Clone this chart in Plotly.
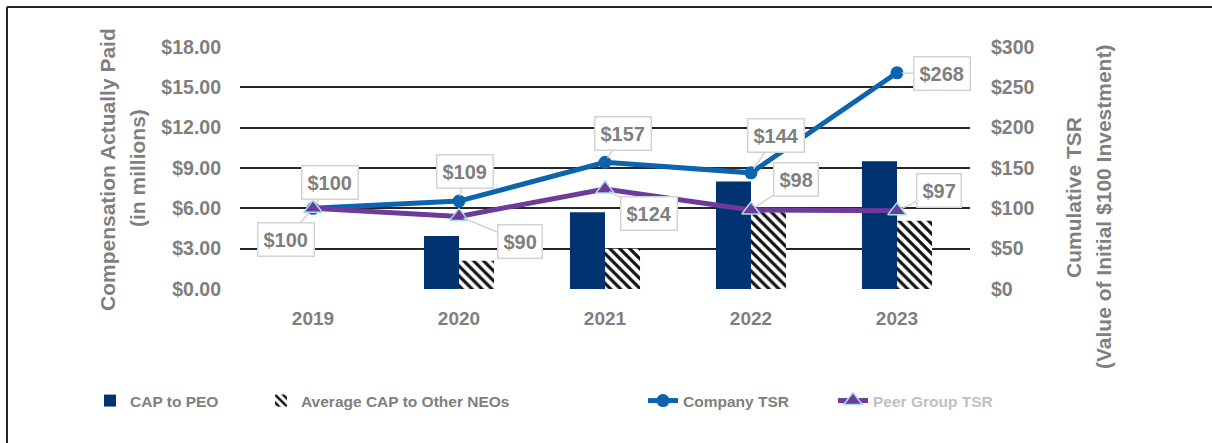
import plotly.graph_objects as go

years = ["2019", "2020", "2021", "2022", "2023"]
cap_peo = [None, 3.95, 5.70, 8.00, 9.50]
cap_neo = [None, 2.10, 3.00, 5.70, 5.08]
company_tsr = [100, 109, 157, 144, 268]
peer_tsr = [100, 90, 124, 98, 97]

left_ticks = [0, 3, 6, 9, 12, 15, 18]
left_labels = ["$0.00", "$3.00", "$6.00", "$9.00", "$12.00", "$15.00", "$18.00"]
right_ticks = [0, 50, 100, 150, 200, 250, 300]
right_labels = ["$0", "$50", "$100", "$150", "$200", "$250", "$300"]

# label offsets (pixels, screen: +x right, +y down) of the callout boxes relative to the points
company_off = [(17, -26), (6, -30), (18, -29), (25, -37), (45, 1)]
peer_off = [(-27, 31), (61, 25), (44, 25), (45, -30), (42, -20)]

GREY = "#7f7f7f"
NAVY = "#00336f"
BLUE = "#0b64ad"
PURPLE = "#6e3a9b"
CALLOUT = "#d3d3d3"
FONT = "Liberation Sans, Arial, sans-serif"

L, R, T, B = 240, 242, 47, 154
W, H = 1212, 443
pw, ph = W - L - R, H - T - B


def px(x):
    return (x - L) / pw


def py(y):
    return (H - B - y) / ph


xpos = list(range(len(years)))

fig = go.Figure()
fig.add_trace(go.Bar(x=xpos, y=cap_peo, name="CAP to PEO", legend="legend",
                     marker=dict(color=NAVY, line=dict(width=0))))
fig.add_trace(go.Bar(x=xpos, y=cap_neo, name="Average CAP to Other NEOs", legend="legend2",
                     marker=dict(color="white", line=dict(width=0),
                                 pattern=dict(shape="\\", fgcolor="#111111", bgcolor="white",
                                              size=7, solidity=0.45, fillmode="replace"))))
fig.add_trace(go.Scatter(x=xpos, y=company_tsr, name="Company TSR", yaxis="y2", mode="lines+markers",
                         legend="legend3",
                         line=dict(color=BLUE, width=5),
                         marker=dict(symbol="circle", size=13, color=BLUE)))
fig.add_trace(go.Scatter(x=xpos, y=peer_tsr, name="<span style='color:#c0c0c0'>Peer Group TSR</span>",
                         yaxis="y2", mode="lines+markers", legend="legend4",
                         line=dict(color=PURPLE, width=5),
                         marker=dict(symbol="triangle-up", size=16, color=PURPLE,
                                     line=dict(color="#a9dde9", width=1.5))))

annotations = []
for i in range(len(years)):
    for vals, offs in ((company_tsr, company_off), (peer_tsr, peer_off)):
        dx, dy = offs[i]
        annotations.append(dict(
            x=xpos[i], y=vals[i], xref="x", yref="y2", text="$" + str(vals[i]),
            showarrow=True, arrowhead=0, arrowwidth=1.5, arrowcolor=CALLOUT,
            ax=dx, ay=dy, axref="pixel", ayref="pixel", standoff=5,
            bgcolor="white", bordercolor=CALLOUT, borderwidth=1.5, borderpad=5,
            font=dict(family=FONT, size=20, color=GREY, weight="bold")))

title_font = dict(family=FONT, size=21, color=GREY, weight="bold")
for text, x, y in (("Compensation Actually Paid", 107, 170), ("(in millions)", 137, 168),
                   ("Cumulative TSR", 1073, 198), ("(Value of Initial $100 Investment)", 1103, 207)):
    annotations.append(dict(text=text, x=px(x), y=py(y), xref="paper", yref="paper",
                            xanchor="center", yanchor="middle",
                            showarrow=False, textangle=-90, font=title_font))

shapes = [
    dict(type="line", xref="paper", yref="paper", x0=px(7), x1=px(1300),
         y0=py(7), y1=py(7), line=dict(color="#262626", width=2)),
    dict(type="line", xref="paper", yref="paper", x0=px(7), x1=px(7),
         y0=py(7), y1=py(500), line=dict(color="#262626", width=2)),
]

legend_common = dict(orientation="h", xanchor="left", y=py(401), yanchor="middle",
                     font=dict(size=15.5, color=GREY), bgcolor="rgba(0,0,0,0)")

fig.update_layout(
    width=W, height=H, margin=dict(l=L, r=R, t=T, b=B, pad=0),
    paper_bgcolor="white", plot_bgcolor="white",
    barmode="group", bargap=0.52, bargroupgap=0,
    font=dict(family=FONT, color=GREY, size=19, weight="bold"),
    xaxis=dict(type="linear", tickvals=xpos, ticktext=years, showgrid=False, showline=False,
               zeroline=False, ticks="", ticklabelstandoff=16, tickfont=dict(size=19),
               range=[-0.5, 4.5]),
    yaxis=dict(range=[0, 18], tickvals=left_ticks, ticktext=left_labels, showgrid=True,
               gridcolor="#262626", gridwidth=1.5, zeroline=False, showline=False,
               ticklabelstandoff=18, tickfont=dict(size=19.5)),
    yaxis2=dict(range=[0, 300], tickvals=right_ticks, ticktext=right_labels, overlaying="y",
                side="right", showgrid=False, zeroline=False, showline=False,
                ticklabelstandoff=20, tickfont=dict(size=19.5)),
    legend=dict(x=px(90), **legend_common),
    legend2=dict(x=px(261), **legend_common),
    legend3=dict(x=px(643), **legend_common),
    legend4=dict(x=px(833), **legend_common),
    annotations=annotations,
    shapes=shapes,
    showlegend=True,
)

fig.write_html("out.html", config={"displayModeBar": False},
               post_script="document.body.style.margin='0';")
